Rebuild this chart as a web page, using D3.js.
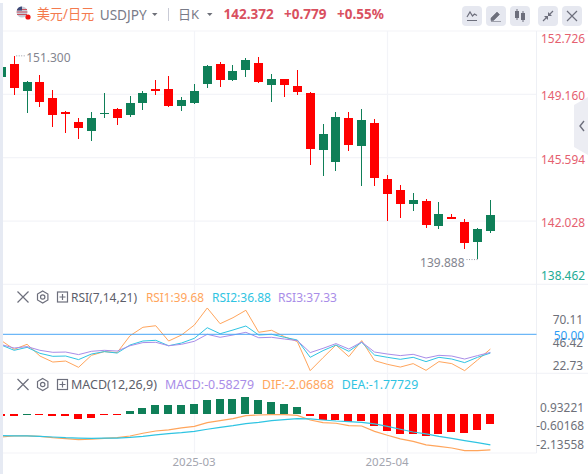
<!DOCTYPE html>
<html>
<head>
<meta charset="utf-8">
<script src="https://cdn.jsdelivr.net/npm/d3@7"></script>
<style>
  html, body { margin: 0; padding: 0; background: #fff; overflow: hidden; }
  text { font-family: "Noto Sans", "Noto Sans CJK SC", sans-serif; }
</style>
</head>
<body>
<svg id="chart" width="588" height="474"></svg>
<script>
// daily candles, oldest first
var opens  = [150.14,150.87,149.35,149.86,148.96,148.17,147.60,147.10,148.05,148.34,148.00,148.67,149.46,149.46,148.50,148.67,149.74,150.87,149.97,150.53,150.92,149.69,150.03,149.63,149.24,146.03,145.35,147.83,146.25,147.55,144.40,143.78,142.99,143.16,141.75,142.26,141.98,140.85,141.47]
var closes = [150.70,149.52,149.86,148.73,148.00,148.05,147.27,147.83,148.11,147.83,148.67,149.24,149.35,148.50,148.84,149.35,150.76,149.97,150.47,151.09,149.86,150.03,149.69,149.29,146.09,146.93,147.89,146.31,147.72,144.45,143.55,142.99,143.22,141.81,142.43,142.15,140.80,141.58,142.37]
var highs  = [150.70,151.30,149.91,150.25,149.41,148.22,147.83,148.17,149.24,148.39,149.07,149.35,149.97,150.19,149.01,149.74,150.81,150.98,150.81,151.21,151.26,150.31,150.03,150.53,149.29,147.49,148.17,148.17,148.34,147.77,144.62,144.06,143.61,143.27,143.10,142.43,142.15,141.64,143.22]
var lows   = [150.14,149.12,148.11,148.45,147.32,146.99,146.65,146.54,147.83,147.44,147.89,148.28,149.12,148.45,148.22,148.62,149.52,149.57,149.91,150.14,149.80,148.73,149.01,149.12,145.19,144.57,144.85,145.97,144.00,144.00,142.03,142.20,142.60,141.64,141.58,142.15,140.46,139.888,141.36]

var rsi1 = [45.6,39.5,43.0,34.8,30.6,31.3,26.9,35.3,37.9,37.2,49.0,54.9,56.0,45.3,49.5,56.5,68.4,57.4,61.6,66.8,51.4,52.8,48.3,44.9,24.6,33.7,42.5,34.4,45.6,31.6,29.0,27.1,29.5,24.8,30.9,29.5,24.6,32.0,39.68]
var rsi2 = [42.5,38.8,40.9,36.7,34.6,34.8,32.3,36.2,37.9,36.9,42.5,45.3,45.8,42.0,43.9,47.2,54.6,50.4,53.0,55.8,49.5,50.0,47.9,46.0,33.9,38.6,42.5,38.1,44.4,35.5,33.9,32.5,33.9,30.9,33.9,32.7,30.2,33.9,36.88]
var rsi3 = [42.8,40.4,41.4,38.8,37.4,37.6,35.8,38.1,38.8,38.3,42.0,44.2,44.4,42.0,43.0,45.1,50.0,47.9,49.5,51.4,47.6,47.9,46.7,45.6,37.2,40.2,43.5,39.7,44.6,37.6,36.2,35.1,36.0,33.4,35.3,34.8,32.7,35.1,37.33]

var macdBars = [-0.10,-0.10,0.03,-0.04,-0.13,-0.14,-0.27,-0.21,-0.06,-0.03,0.19,0.37,0.54,0.54,0.54,0.60,0.83,0.89,0.89,1.01,0.83,0.72,0.60,0.43,-0.10,-0.33,-0.33,-0.45,-0.39,-0.68,-0.97,-1.14,-1.14,-1.26,-1.14,-1.03,-1.09,-0.91,-0.58]
var dif = [-1.32,-1.26,-1.26,-1.28,-1.36,-1.41,-1.47,-1.45,-1.40,-1.36,-1.26,-1.10,-0.97,-0.91,-0.79,-0.70,-0.48,-0.37,-0.25,-0.08,-0.04,-0.02,-0.02,-0.06,-0.33,-0.48,-0.52,-0.66,-0.68,-0.99,-1.22,-1.43,-1.57,-1.78,-1.86,-1.96,-2.11,-2.11,-2.07]
var dea = [-1.24,-1.26,-1.26,-1.28,-1.32,-1.36,-1.38,-1.40,-1.38,-1.38,-1.34,-1.28,-1.20,-1.12,-1.07,-0.99,-0.87,-0.76,-0.66,-0.54,-0.47,-0.37,-0.31,-0.25,-0.27,-0.33,-0.39,-0.43,-0.47,-0.56,-0.70,-0.87,-1.03,-1.14,-1.28,-1.40,-1.53,-1.65,-1.78]

var priceTicks = [152.726, 149.160, 145.594, 142.028, 138.462]
var rsiTicks = [70.11, 46.42, 22.73]
var macdTicks = [0.93221, -0.60168, -2.13558]
var monthTicks = [{ idx: 15, label: '2025-03' }, { idx: 30, label: '2025-04' }]

var UP = '#0f7f58', DOWN = '#ff0000', GRID = '#f3f4f8', GREY = '#6e7079'
var ORANGE = '#ffa55c', CYAN = '#2fc4e2', PURPLE = '#a98de8'

var svg = d3.select('#chart')
var plotRight = 536.5

var x = d3.scaleLinear().domain([0, 38]).range([1.33, 490.39])
var y = d3.scaleLinear().domain([138.462, 152.726]).range([284.4, 31])
var yRsi = d3.scaleLinear().domain([22.73, 50]).range([373.3, 334.3])
var yRsiLabel = d3.scaleLinear().domain([22.73, 70.11]).range([365, 319])
var yMacd = d3.scaleLinear().domain([0, -1]).range([414.3, 431.5])
var yMacdLabel = d3.scaleLinear().domain([-2.13558, 0.93221]).range([444, 407])

// grid, top edges of the panels run under the axis too
var gridRows = priceTicks.map(function(d, i) { return { y: y(d), full: i === 0 || i === 4 } })
  .concat([{ y: 373.3, full: true }, { y: 453, full: false }])
svg.append('g').selectAll('line').data(gridRows).enter().append('line')
  .attr('x1', 3).attr('x2', function(d) { return d.full ? 588 : plotRight })
  .attr('y1', function(d) { return d.y }).attr('y2', function(d) { return d.y })
  .attr('stroke', GRID).attr('stroke-width', 1.2)
svg.append('g').selectAll('line').data(monthTicks).enter().append('line')
  .attr('x1', function(d) { return Math.floor(x(d.idx)) + 0.5 }).attr('x2', function(d) { return Math.floor(x(d.idx)) + 0.5 })
  .attr('y1', 31).attr('y2', 453)
  .attr('stroke', GRID).attr('stroke-width', 1.2)
svg.append('line').attr('x1', plotRight).attr('x2', plotRight).attr('y1', 31).attr('y2', 453)
  .attr('stroke', '#eef0f5').attr('stroke-width', 1)

var plot = svg.append('g')

// candles, snapped to whole pixels
var bw = 9
var idx = d3.range(opens.length)
var candle = plot.selectAll('.candle').data(idx).enter().append('g').attr('class', 'candle')
function candleColor(i) { return closes[i] >= opens[i] ? UP : DOWN }
candle.append('line')
  .attr('x1', function(i) { return Math.floor(x(i)) + 0.5 }).attr('x2', function(i) { return Math.floor(x(i)) + 0.5 })
  .attr('y1', function(i) { return Math.round(y(highs[i])) }).attr('y2', function(i) { return Math.round(y(lows[i])) })
  .attr('stroke', candleColor).attr('stroke-width', 1)
candle.append('rect')
  .attr('x', function(i) { return Math.floor(x(i)) - 4 })
  .attr('width', bw)
  .attr('y', function(i) { return Math.round(y(Math.max(opens[i], closes[i]))) })
  .attr('height', function(i) { return Math.max(1, Math.round(Math.abs(y(opens[i]) - y(closes[i])))) })
  .attr('fill', candleColor)

// high / low marks on the candles
var hiIdx = d3.maxIndex(highs), loIdx = d3.minIndex(lows)
svg.append('line').attr('x1', x(hiIdx) + 2).attr('x2', x(hiIdx) + 11)
  .attr('y1', y(highs[hiIdx]) - 0.5).attr('y2', y(highs[hiIdx]) - 0.5)
  .attr('stroke', '#9a9ca6').attr('stroke-dasharray', '1,1.5')
svg.append('text').attr('x', x(hiIdx) + 12).attr('y', y(highs[hiIdx]) + 5.5)
  .attr('font-size', 12).attr('fill', '#83858f').text(d3.format('.3f')(highs[hiIdx]))
svg.append('line').attr('x1', x(loIdx) - 11).attr('x2', x(loIdx))
  .attr('y1', y(lows[loIdx]) + 0.5).attr('y2', y(lows[loIdx]) + 0.5)
  .attr('stroke', '#9a9ca6').attr('stroke-dasharray', '1,1.5')
svg.append('text').attr('x', x(loIdx) - 13).attr('y', y(lows[loIdx]) + 7.5)
  .attr('text-anchor', 'end').attr('font-size', 12).attr('fill', '#83858f').text(d3.format('.3f')(lows[loIdx]))

// rsi
function drawLine(values, scale, color, w) {
  var line = d3.line().x(function(d, i) { return x(i) }).y(function(d) { return scale(d) })
  plot.append('path').attr('d', line(values)).attr('fill', 'none').attr('stroke', color).attr('stroke-width', w || 1)
}
drawLine(rsi1, yRsi, ORANGE)
drawLine(rsi2, yRsi, CYAN)
drawLine(rsi3, yRsi, PURPLE)
svg.append('line').attr('x1', 3).attr('x2', plotRight)
  .attr('y1', yRsi(50)).attr('y2', yRsi(50)).attr('stroke', '#49a6f5').attr('stroke-width', 1)

// macd
plot.selectAll('.bar').data(macdBars).enter().append('rect').attr('class', 'bar')
  .attr('x', function(d, i) { return Math.floor(x(i)) - 4 })
  .attr('width', 8)
  .attr('y', function(d) { return Math.round(d > 0 ? yMacd(d) : yMacd(0)) })
  .attr('height', function(d) { return Math.max(1, Math.round(Math.abs(yMacd(d) - yMacd(0)))) })
  .attr('fill', function(d) { return d > 0 ? UP : DOWN })
drawLine(dif, yMacd, ORANGE, 1.2)
drawLine(dea, yMacd, CYAN, 1.2)

// left edge sits over the clipped first candle
svg.append('rect').attr('x', 0).attr('y', 0).attr('width', 3).attr('height', 474).attr('fill', '#e6eaf3')
svg.append('rect').attr('x', 0).attr('y', 0).attr('width', 3).attr('height', 3).attr('fill', '#fff')

// axis labels are narrow and tall in the original, so squeeze them sideways
function axisLabels(values, right, posY, fmt, color) {
  svg.append('g').selectAll('text').data(values).enter().append('text')
    .attr('transform', function(d, i) { return 'translate(' + right + ',' + posY(d, i) + ') scale(0.88,1)' })
    .attr('text-anchor', 'end').attr('font-size', 13.5)
    .attr('fill', color)
    .text(fmt)
}
axisLabels(priceTicks, 585,
  function(d, i) { return y(d) + (i === 0 ? 12 : i === 4 ? -4 : 6) },
  function(d) { return d3.format('.3f')(d) },
  function(d, i) { return i === 4 ? '#22ab94' : '#e5606f' })
axisLabels(rsiTicks, 583,
  function(d) { return yRsiLabel(d) + 5 },
  function(d) { return d.toFixed(2) }, GREY)
axisLabels([50], 584,
  function(d) { return yRsi(d) + 5.5 },
  function(d) { return d.toFixed(2) }, '#2c9cf5')
axisLabels(macdTicks, 584,
  function(d) { return yMacdLabel(d) + 5 },
  function(d) { return d.toFixed(5) }, GREY)

// months
svg.append('g').selectAll('text').data(monthTicks).enter().append('text')
  .attr('x', function(d) { return x(d.idx) - 0.3 }).attr('y', 465.5)
  .attr('text-anchor', 'middle').attr('font-size', 11.5).attr('fill', '#a3a5af')
  .text(function(d) { return d.label })

// header
var flag = svg.append('g')
flag.append('circle').attr('cx', 22).attr('cy', 12).attr('r', 5.5).attr('fill', '#c9cbd6')
flag.append('path').attr('d', 'M17 9.5h10M16.7 12h10.6M17 14.5h10').attr('stroke', '#c9515e').attr('stroke-width', 1.2)
flag.append('path').attr('d', 'M22 6.5a5.5 5.5 0 0 0-5.2 4h5.2z').attr('fill', '#3d4a78')
flag.append('circle').attr('cx', 28).attr('cy', 17).attr('r', 2.6).attr('fill', '#f01010')

svg.append('text').attr('x', 36.7).attr('y', 18.5).attr('font-size', 14).attr('fill', '#f47a4e')
  .attr('textLength', 57.6).attr('lengthAdjust', 'spacingAndGlyphs').text('美元/日元')
svg.append('text').attr('x', 99.7).attr('y', 19.5).attr('font-size', 13.5).attr('fill', '#797b88')
  .attr('textLength', 47).attr('lengthAdjust', 'spacingAndGlyphs').text('USDJPY')
svg.append('path').attr('d', 'M152 13h5.5l-2.75 3z').attr('fill', '#6e7079')
svg.append('line').attr('x1', 168.5).attr('x2', 168.5).attr('y1', 8).attr('y2', 21).attr('stroke', '#c9cbd6')
svg.append('text').attr('x', 178).attr('y', 18.5).attr('font-size', 13).attr('fill', '#797b88').text('日K')
svg.append('path').attr('d', 'M207 13h5.5l-2.75 3z').attr('fill', '#6e7079')
svg.append('text').attr('x', 223.5).attr('y', 18.5).attr('font-size', 13.5).attr('font-weight', 700).attr('fill', '#d9505f').text('142.372')
svg.append('text').attr('x', 284).attr('y', 18.5).attr('font-size', 13.5).attr('font-weight', 700).attr('fill', '#d9505f').text('+0.779')
svg.append('text').attr('x', 337).attr('y', 18.5).attr('font-size', 13.5).attr('font-weight', 700).attr('fill', '#d9505f').text('+0.55%')

// toolbar
var iconGrey = '#6d6f7c'
var tools = [462, 486, 510, 538, 562]
svg.append('g').selectAll('rect').data(tools).enter().append('rect')
  .attr('x', function(d) { return d }).attr('y', 6).attr('width', 20).attr('height', 20).attr('rx', 4)
  .attr('fill', '#e6e8f0')
svg.append('path').attr('d', 'M467 17l3-5 2.5 4 2-2 2.5 1.5M467 20.5h10').attr('fill', 'none').attr('stroke', iconGrey).attr('stroke-width', 1.2)
svg.append('path').attr('d', 'M491 18l6-6 2.5 2.5-6 6h-2.5zM491 21.5h10').attr('fill', iconGrey).attr('stroke', iconGrey).attr('stroke-width', 0.6)
svg.append('path').attr('d', 'M515 11h4v7h-4zM521 13h4v7h-4z').attr('fill', iconGrey)
svg.append('path').attr('d', 'M517 9v11M523 11v11').attr('stroke', iconGrey).attr('stroke-width', 1)
svg.append('path').attr('d', 'M553 11l-4 4M543 21l4-4').attr('stroke', iconGrey).attr('stroke-width', 1.2)
svg.append('path').attr('d', 'M548 12v4h4zM548 20v-4h-4z').attr('fill', iconGrey)
svg.append('path').attr('d', 'M567 11l10 10M577 11l-10 10').attr('stroke', iconGrey).attr('stroke-width', 1.2)

// side handle
svg.append('path').attr('d', 'M588 97l-14 8v42l14 8z').attr('fill', '#ecedf3')
svg.append('path').attr('d', 'M584 121l-4 5 4 5').attr('fill', 'none').attr('stroke', iconGrey).attr('stroke-width', 1.4)

// sub panel legends
function panelIcons(cy) {
  var g = svg.append('g').attr('stroke', iconGrey).attr('fill', 'none').attr('stroke-width', 1.2)
  g.append('path').attr('d', 'M17.5 ' + (cy - 5.5) + 'l11 11M28.5 ' + (cy - 5.5) + 'l-11 11')
  g.append('path').attr('d', d3.range(6).map(function(k) {
    var a = Math.PI / 3 * k - Math.PI / 2
    return (k ? 'L' : 'M') + (42.7 + 6 * Math.cos(a)) + ' ' + (cy + 6 * Math.sin(a))
  }).join('') + 'Z')
  g.append('circle').attr('cx', 42.7).attr('cy', cy).attr('r', 2.2)
  g.append('rect').attr('x', 57.5).attr('y', cy - 5).attr('width', 10).attr('height', 10)
  g.append('path').attr('d', 'M59.5 ' + cy + 'h6M62.5 ' + (cy - 3) + 'v6')
}
panelIcons(297)
panelIcons(384.5)

function legend(yPos, items) {
  items.forEach(function(it) {
    svg.append('text').attr('x', it[0]).attr('y', yPos).attr('font-size', 13).attr('fill', it[2])
      .attr('textLength', it[3]).attr('lengthAdjust', 'spacingAndGlyphs').text(it[1])
  })
}
legend(302, [[71, 'RSI(7,14,21)', '#5c5e6a', 66], [146, 'RSI1:39.68', ORANGE, 58], [212, 'RSI2:36.88', CYAN, 59], [278, 'RSI3:37.33', PURPLE, 59]])
legend(389, [[71, 'MACD(12,26,9)', '#5c5e6a', 86], [165, 'MACD:-0.58279', PURPLE, 89], [262, 'DIF:-2.06868', ORANGE, 72], [341.7, 'DEA:-1.77729', CYAN, 76.5]])
</script>
</body>
</html>
